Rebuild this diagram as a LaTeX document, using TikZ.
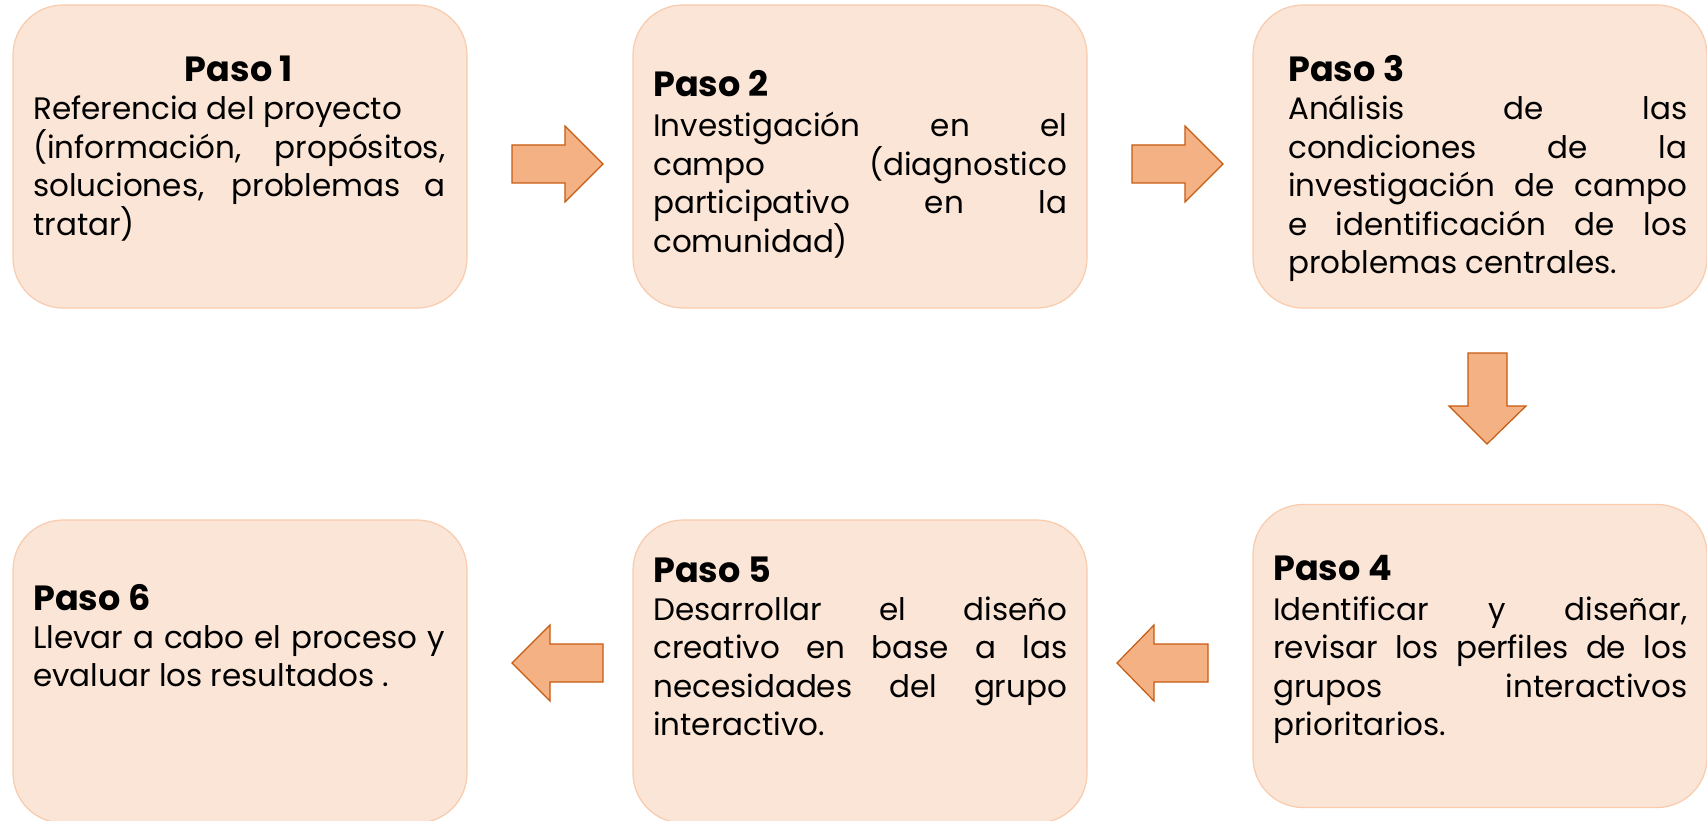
\documentclass[tikz,border=0pt]{standalone}
\usepackage{fontspec}
\setmainfont{Poppins}
\definecolor{boxfill}{HTML}{FBE5D6}
\definecolor{boxline}{HTML}{F8CBAD}
\definecolor{arrowfill}{HTML}{F4B183}
\definecolor{arrowline}{HTML}{C55A11}
\begin{document}
\hyphenpenalty=10000
\begin{tikzpicture}[x=1pt,y=-1pt,
  box/.style={draw=boxline, fill=boxfill, rounded corners=50pt, line width=1.2pt,
    minimum width=454pt, minimum height=303pt, inner sep=0pt},
  ttl/.style={font=\fontsize{35}{40}\selectfont\bfseries, anchor=base west, inner sep=0pt},
  body/.style={font=\fontsize{31}{38.5}\selectfont, anchor=base west, inner sep=0pt, align=justify},
  barrow/.style={draw=arrowline, fill=arrowfill, line width=1.2pt, line join=miter}]
\fill[white] (0,0) rectangle (1707,821);
\useasboundingbox (0,0) rectangle (1707,821);

% boxes
\node[box] (b1) at (240,156.5) {};
\node[box] (b2) at (860,156.5) {};
\node[box] (b3) at (1480,156.5) {};
\node[box] (b4) at (1480,656) {};
\node[box] (b5) at (860,671.5) {};
\node[box] (b6) at (240,671.5) {};

% texts
\node[ttl, anchor=base] (t1) at (239,82) {Paso 1};
\node[body, text width=412pt] (d1) at (33,120) {Referencia del proyecto\\ (información, propósitos,\linebreak soluciones, problemas a\linebreak tratar)};

\node[ttl] (t2) at (653,97) {Paso 2};
\node[body, text width=414pt] (d2) at (653,137) {Investigación en el\linebreak campo (diagnostico\linebreak participativo en la\linebreak comunidad)};

\node[ttl] (t3) at (1288,82) {Paso 3};
\node[body, text width=399pt] (d3) at (1288,120) {Análisis de las\linebreak condiciones de la\linebreak investigación de campo\linebreak e identificación de los\linebreak problemas centrales.};

\node[ttl] (t4) at (1273,580) {Paso 4};
\node[body, text width=414pt] (d4) at (1273,620) {Identificar y diseñar,\linebreak revisar los perfiles de los\linebreak grupos interactivos\linebreak prioritarios.};

\node[ttl] (t5) at (653,582) {Paso 5};
\node[body, text width=414pt] (d5) at (653,620) {Desarrollar el diseño\linebreak creativo en base a las\linebreak necesidades del grupo\linebreak interactivo.};

\node[ttl] (t6) at (33,610) {Paso 6};
\node[body, text width=412pt] (d6) at (33,648) {Llevar a cabo el proceso y\linebreak evaluar los resultados .};

% block arrows
\draw[barrow] (512,145) -- (565,145) -- (565,126) -- (603,164) -- (565,202) -- (565,183) -- (512,183) -- cycle;
\draw[barrow] (1132,145) -- (1185,145) -- (1185,126) -- (1223,164) -- (1185,202) -- (1185,183) -- (1132,183) -- cycle;
\draw[barrow] (1468,353) -- (1507,353) -- (1507,406) -- (1526,406) -- (1487,444) -- (1449,406) -- (1468,406) -- cycle;
\draw[barrow] (1208,644) -- (1154,644) -- (1154,625) -- (1117,663) -- (1154,701) -- (1154,682) -- (1208,682) -- cycle;
\draw[barrow] (603,644) -- (550,644) -- (550,625) -- (512,663) -- (550,701) -- (550,682) -- (603,682) -- cycle;
\end{tikzpicture}
\end{document}
